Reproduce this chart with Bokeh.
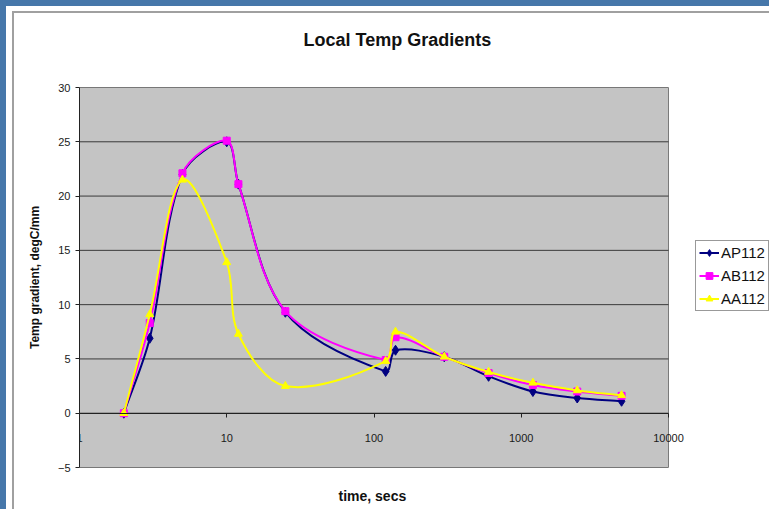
import numpy as np
from bokeh.plotting import figure
from bokeh.models import (Range1d, FixedTicker, Legend, LegendItem,
                          Title, NumeralTickFormatter)
from bokeh.embed import file_html
from bokeh.resources import INLINE

# ---- data ----
time_secs = [2, 3, 5, 10, 12, 25, 120, 140, 300, 600, 1200, 2400, 4800]
ap112 = [0.0, 6.9, 22.0, 25.0, 21.1, 9.3, 3.85, 5.8, 5.2, 3.4, 2.0, 1.4, 1.1]
ab112 = [0.0, 8.3, 22.1, 25.1, 21.1, 9.4, 4.9, 7.0, 5.2, 3.7, 2.6, 2.0, 1.6]
aa112 = [0.0, 9.1, 21.5, 13.9, 7.3, 2.5, 4.8, 7.5, 5.2, 3.8, 2.8, 2.1, 1.65]
x_ticks = [1, 10, 100, 1000, 10000]
y_ticks = [-5, 0, 5, 10, 15, 20, 25, 30]

W, H = 769, 509
ML, MR, MT, MB = 79, 0, 87, 42
DECADE_PX = 147.25                # width of one decade on the x axis
FONT = "Liberation Sans"
BOX = "#a0a0a0"
BLUE = "#4677aa"

x_lo, x_hi = x_ticks[0], x_ticks[-1]
y_lo, y_hi = y_ticks[0], y_ticks[-1]
frame_w = W - ML - MR
frame_h = H - MT - MB
X_SPAN = frame_w / DECADE_PX      # frame reaches past the last decade (legend area)

p = figure(width=W, height=H, x_axis_type="log",
           x_range=Range1d(x_lo, x_lo * 10 ** X_SPAN), y_range=Range1d(y_lo, y_hi),
           output_backend="svg", toolbar_location=None,
           min_border_left=ML, min_border_right=MR,
           min_border_top=MT, min_border_bottom=MB,
           background_fill_color=None, border_fill_color=None)

# page-like backdrop: blue window edge + white chart area with a grey frame
p.styles = {
    "background-color": "white",
    "background-image": ", ".join([f"linear-gradient({BLUE},{BLUE})"] * 2 +
                                  [f"linear-gradient({BOX},{BOX})"] * 2),
    "background-size": "100% 6px, 6px 100%, 760px 2px, 2px 500px",
    "background-position": "0px 0px, 0px 0px, 12px 11px, 12px 11px",
    "background-repeat": "no-repeat",
}
p.outline_line_color = None

# titles (a thin spacer title keeps the main title clear of the frame)
p.add_layout(Title(text=" ", text_font_size="1px", standoff=34), "above")
p.title.text = "Local Temp Gradients"
p.title.align = "left"
p.title.text_font = FONT
p.title.text_font_size = "18px"
p.title.text_font_style = "bold"
p.title.text_color = "#111111"
p.title.offset = 224
p.title.standoff = 2

# grey plot area and horizontal gridlines, limited to the axis extent
p.quad(left=x_lo, right=x_hi, bottom=y_lo, top=y_hi,
       fill_color="#c4c4c4", line_color="#7a7a7a", line_width=1)
p.segment(x0=[x_lo] * len(y_ticks), x1=[x_hi] * len(y_ticks), y0=y_ticks, y1=y_ticks,
          line_color="#3a3a3a", line_width=1)
p.xgrid.visible = False
p.ygrid.visible = False

# x axis crossing at y = 0
xa = p.xaxis[0]
xa.fixed_location = 0
xa.bounds = (x_lo, x_hi)
xa.ticker = FixedTicker(ticks=x_ticks, minor_ticks=[])
xa.formatter = NumeralTickFormatter(format="0")
xa.major_label_text_font = FONT
xa.major_label_text_font_size = "11px"
xa.major_label_text_color = "#1a1a1a"
xa.major_tick_in = 0
xa.major_tick_out = 4
xa.minor_tick_line_color = None
xa.major_label_standoff = 17
xa.axis_line_color = "#222222"
xa.major_tick_line_color = "#222222"

p.add_layout(Title(text=" ", text_font_size="1px", standoff=15), "below")
p.add_layout(Title(text="time, secs", align="left", offset=259, text_font=FONT,
                   text_font_size="14px", text_font_style="bold",
                   text_color="#111111", standoff=0), "below")

ya = p.yaxis[0]
ya.ticker = FixedTicker(ticks=y_ticks, minor_ticks=[])
ya.axis_label = "Temp gradient, degC/mm"
ya.axis_label_text_font = FONT
ya.axis_label_text_font_size = "12px"
ya.axis_label_text_font_style = "bold"
ya.axis_label_text_color = "#111111"
ya.axis_label_standoff = 13
ya.major_label_text_font = FONT
ya.major_label_text_font_size = "11px"
ya.major_label_text_color = "#1a1a1a"
ya.major_tick_in = 0
ya.major_tick_out = 4
ya.minor_tick_line_color = None
ya.major_label_standoff = 5
ya.axis_line_color = "#222222"
ya.major_tick_line_color = "#222222"

# pixel scales (for smooth-curve construction in screen-proportional space)
sx = DECADE_PX
sy = frame_h / float(y_hi - y_lo)


def smooth_segments(xs, ys):
    u = np.log10(np.asarray(xs, float)) * sx
    v = np.asarray(ys, float) * sy
    P = np.column_stack([u, v])
    n = len(P)
    T = np.zeros_like(P)
    for i in range(n):
        if i == 0:
            d = P[1] - P[0]
            T[i] = d / np.hypot(*d)
        elif i == n - 1:
            d = P[-1] - P[-2]
            T[i] = d / np.hypot(*d)
        else:
            a = np.hypot(*(P[i] - P[i - 1]))
            b = np.hypot(*(P[i + 1] - P[i]))
            T[i] = (P[i + 1] - P[i - 1]) / (a + b)
    segs = {k: [] for k in ("x0", "y0", "x1", "y1", "cx0", "cy0", "cx1", "cy1")}
    for i in range(n - 1):
        L = np.hypot(*(P[i + 1] - P[i]))
        c0 = P[i] + T[i] * L / 3.0
        c1 = P[i + 1] - T[i + 1] * L / 3.0
        segs["x0"].append(10 ** (P[i][0] / sx)); segs["y0"].append(P[i][1] / sy)
        segs["x1"].append(10 ** (P[i + 1][0] / sx)); segs["y1"].append(P[i + 1][1] / sy)
        segs["cx0"].append(10 ** (c0[0] / sx)); segs["cy0"].append(c0[1] / sy)
        segs["cx1"].append(10 ** (c1[0] / sx)); segs["cy1"].append(c1[1] / sy)
    return segs


series = [
    ("AP112", ap112, "#000080", "diamond", 10),
    ("AB112", ab112, "#ff00ff", "square", 7),
    ("AA112", aa112, "#ffff00", "triangle", 8),
]

items = []
for name, vals, col, mk, sz in series:
    s = smooth_segments(time_secs, vals)
    br = p.bezier(line_color=col, line_width=2, **s)
    sr = p.scatter(time_secs, vals, marker=mk, size=sz, fill_color=col, line_color=col)
    items.append(LegendItem(label=name, renderers=[br, sr]))

legend = Legend(items=items, location=(616, 156))
legend.label_text_font = FONT
legend.label_text_font_size = "15px"
legend.label_text_color = "#111111"
legend.border_line_color = "#333333"
legend.border_line_width = 1
legend.background_fill_color = "white"
legend.background_fill_alpha = 1
legend.padding = 3
legend.margin = 0
legend.spacing = 6
legend.glyph_width = 20
legend.glyph_height = 17
legend.label_height = 17
legend.label_standoff = 2
p.add_layout(legend)

open("out.html", "w").write(file_html(p, INLINE))
